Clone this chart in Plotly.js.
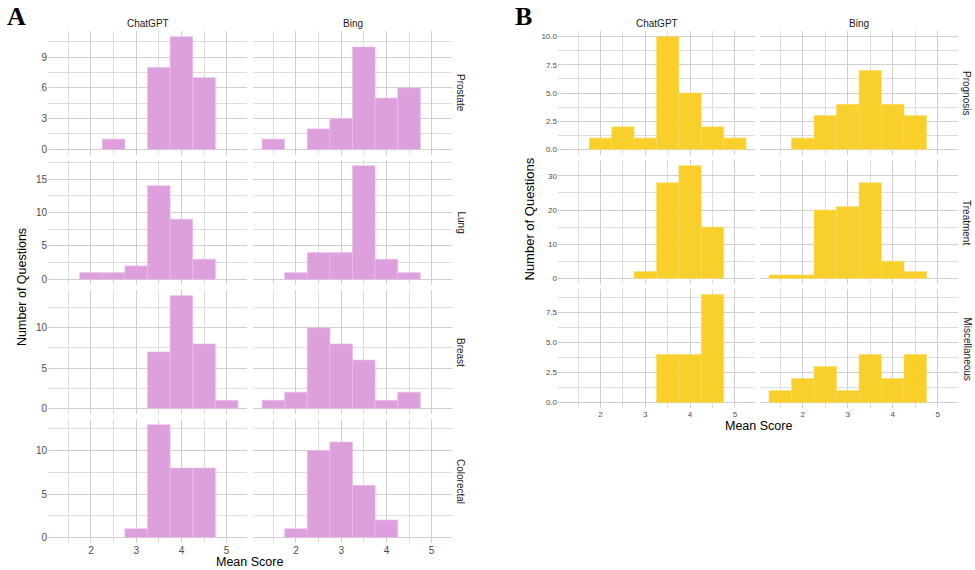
<!DOCTYPE html>
<html>
<head>
<meta charset="utf-8">
<script src="https://cdn.plot.ly/plotly-3.0.1.min.js"></script>
<style>html,body{margin:0;padding:0;background:#fff;}#chart{width:975px;height:570px;}</style>
</head>
<body>
<div id="chart"></div>
<script>
// ---- data (bin centres, bin width 0.5) ----
const binCenters = [1.5, 2.0, 2.5, 3.0, 3.5, 4.0, 4.5, 5.0];
const columns = ["ChatGPT", "Bing"];
const rowsA = ["Prostate", "Lung", "Breast", "Colorectal"];
const rowsB = ["Prognosis", "Treatment", "Miscellaneous"];
const xTicks = [2, 3, 4, 5];

// Panel A (cancer type)
const prostateChatGPT   = [0, 0, 1, 0, 8, 11, 7, 0];
const prostateBing      = [1, 0, 2, 3, 10, 5, 6, 0];
const lungChatGPT       = [0, 1, 1, 2, 14, 9, 3, 0];
const lungBing          = [0, 1, 4, 4, 17, 3, 1, 0];
const breastChatGPT     = [0, 0, 0, 0, 7, 14, 8, 1];
const breastBing        = [1, 2, 10, 8, 6, 1, 2, 0];
const colorectalChatGPT = [0, 0, 0, 1, 13, 8, 8, 0];
const colorectalBing    = [0, 1, 10, 11, 6, 2, 0, 0];

// Panel B (question type)
const prognosisChatGPT  = [0, 1, 2, 1, 10, 5, 2, 1];
const prognosisBing     = [0, 1, 3, 4, 7, 4, 3, 0];
const treatmentChatGPT  = [0, 0, 0, 2, 28, 33, 15, 0];
const treatmentBing     = [1, 1, 20, 21, 28, 5, 2, 0];
const miscChatGPT       = [0, 0, 0, 0, 4, 4, 9, 0];
const miscBing          = [1, 2, 3, 1, 4, 2, 4, 0];

// ---- layout helpers ----
const W = 975, H = 570;
const xd = (a, b) => [a / W, b / W];
const yd = (top, bot) => [1 - bot / H, 1 - top / H];

const colA = [[48, 247], [253, 452]];
const colB = [[558, 755], [760, 958]];
const rowPxA = [[31, 155], [160, 285], [290, 414], [419, 543]];
const rowPxB = [[31, 155], [160, 284], [289, 408]];

const pink = "#DDA0DD", yellow = "#F9CF2B";
const gridMajor = "#cfcfcf", gridMinor = "#dddddd";
const FONT = "Liberation Sans, Arial, sans-serif";

const panels = [
  // A
  {c: 0, r: 0, v: prostateChatGPT, g: "A", ymax: 11, dt: 3},
  {c: 1, r: 0, v: prostateBing, g: "A", ymax: 11, dt: 3},
  {c: 0, r: 1, v: lungChatGPT, g: "A", ymax: 17, dt: 5},
  {c: 1, r: 1, v: lungBing, g: "A", ymax: 17, dt: 5},
  {c: 0, r: 2, v: breastChatGPT, g: "A", ymax: 14, dt: 5},
  {c: 1, r: 2, v: breastBing, g: "A", ymax: 14, dt: 5},
  {c: 0, r: 3, v: colorectalChatGPT, g: "A", ymax: 13, dt: 5},
  {c: 1, r: 3, v: colorectalBing, g: "A", ymax: 13, dt: 5},
  // B
  {c: 0, r: 0, v: prognosisChatGPT, g: "B", ymax: 10, dt: 2.5, fmt: ".1f"},
  {c: 1, r: 0, v: prognosisBing, g: "B", ymax: 10, dt: 2.5, fmt: ".1f"},
  {c: 0, r: 1, v: treatmentChatGPT, g: "B", ymax: 33, dt: 10},
  {c: 1, r: 1, v: treatmentBing, g: "B", ymax: 33, dt: 10},
  {c: 0, r: 2, v: miscChatGPT, g: "B", ymax: 9, dt: 2.5, fmt: ".1f"},
  {c: 1, r: 2, v: miscBing, g: "B", ymax: 9, dt: 2.5, fmt: ".1f"}
];

const data = [];
const layout = {
  width: W, height: H,
  margin: {l: 0, r: 0, t: 0, b: 0},
  paper_bgcolor: "#fff", plot_bgcolor: "#fff",
  showlegend: false,
  bargap: 0,
  font: {family: FONT, size: 10, color: "#4d4d4d"},
  annotations: []
};

panels.forEach((p, i) => {
  const n = i + 1;
  const xa = "x" + (n === 1 ? "" : n), ya = "y" + (n === 1 ? "" : n);
  const isA = p.g === "A";
  const cols = isA ? colA : colB;
  const rows = isA ? rowPxA : rowPxB;
  const lastRow = rows.length - 1;
  const xs = [], ys = [];
  binCenters.forEach((b, k) => { if (p.v[k] > 0) { xs.push(b); ys.push(p.v[k]); } });
  const col = isA ? pink : yellow;
  data.push({
    type: "bar", x: xs, y: ys, width: 0.5, xaxis: xa, yaxis: ya,
    marker: {color: col, line: {color: isA ? "#e7bde7" : "#fbdc64", width: 0.6}},
    hoverinfo: "x+y"
  });
  const tickSize = isA ? 10 : 8;
  layout["xaxis" + (n === 1 ? "" : n)] = {
    domain: xd(cols[p.c][0], cols[p.c][1]), anchor: ya,
    range: [1.05, 5.45], tickmode: "array", tickvals: xTicks,
    showticklabels: p.r === lastRow, ticks: "",
    tickfont: {size: tickSize, color: "#4d4d4d"},
    showgrid: true, gridcolor: gridMajor, gridwidth: 1,
    minor: {tickmode: "array", tickvals: [1.5, 2.5, 3.5, 4.5], showgrid: true, gridcolor: gridMinor, gridwidth: 1},
    zeroline: false, showline: false, fixedrange: true
  };
  layout["yaxis" + (n === 1 ? "" : n)] = {
    domain: yd(rows[p.r][0], rows[p.r][1]), anchor: xa,
    range: [-0.05 * p.ymax, 1.05 * p.ymax],
    tickmode: "linear", tick0: 0, dtick: p.dt, tickformat: p.fmt || "d",
    showticklabels: p.c === 0, ticks: "",
    tickfont: {size: tickSize, color: "#4d4d4d"},
    showgrid: true, gridcolor: gridMajor, gridwidth: 1,
    minor: {tickmode: "linear", tick0: 0, dtick: p.dt / 2, showgrid: true, gridcolor: gridMinor, gridwidth: 1},
    zeroline: false, showline: false, fixedrange: true
  };
});

function ann(text, x, y, opts) {
  layout.annotations.push(Object.assign({
    text: text, x: x / W, y: 1 - y / H, xref: "paper", yref: "paper",
    showarrow: false, xanchor: "center", yanchor: "middle",
    font: {family: FONT, size: 10, color: "#1a1a1a"}
  }, opts || {}));
}

// Panel letters
ann("<b>A</b>", 16, 17, {font: {family: "Liberation Serif, Times New Roman, serif", size: 26, color: "#000"}});
ann("<b>B</b>", 523, 17, {font: {family: "Liberation Serif, Times New Roman, serif", size: 26, color: "#000"}});

// Column strips
columns.forEach((c, i) => {
  ann(c, (colA[i][0] + colA[i][1]) / 2, 23, {font: {family: FONT, size: 10, color: "#1a1a1a"}});
  ann(c, (colB[i][0] + colB[i][1]) / 2, 23, {font: {family: FONT, size: 10, color: "#1a1a1a"}});
});
// Row strips
rowsA.forEach((r, i) => ann(r, 461, (rowPxA[i][0] + rowPxA[i][1]) / 2, {textangle: 90, font: {family: FONT, size: 10, color: "#1a1a1a"}}));
rowsB.forEach((r, i) => ann(r, 967, (rowPxB[i][0] + rowPxB[i][1]) / 2, {textangle: 90, font: {family: FONT, size: 10, color: "#1a1a1a"}}));

// Axis titles
ann("Number of Questions", 22, (rowPxA[0][0] + rowPxA[3][1]) / 2, {textangle: -90, font: {family: FONT, size: 12.5, color: "#000"}});
ann("Mean Score", (colA[0][0] + colA[1][1]) / 2, 562, {font: {family: FONT, size: 12.5, color: "#000"}});
ann("Number of Questions", 529, (rowPxB[0][0] + rowPxB[2][1]) / 2, {textangle: -90, font: {family: FONT, size: 13, color: "#000"}});
ann("Mean Score", (colB[0][0] + colB[1][1]) / 2, 426, {font: {family: FONT, size: 12.5, color: "#000"}});

Plotly.newPlot("chart", data, layout, {displayModeBar: false, staticPlot: true});
</script>
</body>
</html>
